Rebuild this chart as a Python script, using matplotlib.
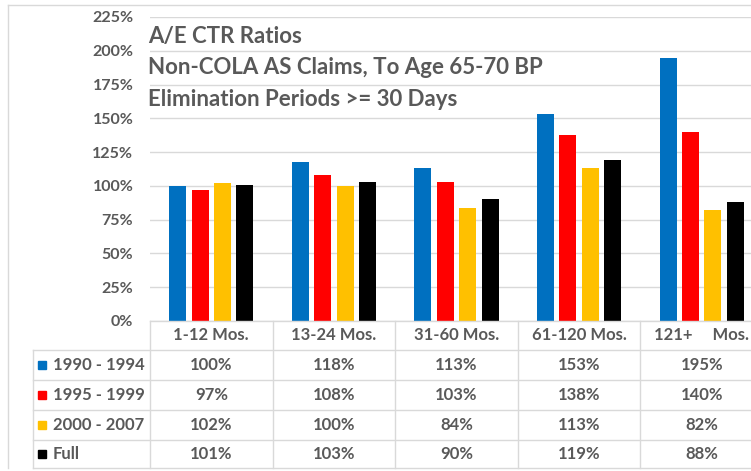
import matplotlib
matplotlib.use("Agg")
from matplotlib import pyplot as plt
from matplotlib.lines import Line2D
from matplotlib.patches import Rectangle
import numpy as np

categories = ['1-12 Mos.', '13-24 Mos.', '31-60 Mos.', '61-120 Mos.', '121+     Mos.']
series_names = ['1990 - 1994', '1995 - 1999', '2000 - 2007', 'Full']
values = [
    [100, 118, 113, 153, 195],
    [97, 108, 103, 138, 140],
    [102, 100, 84, 113, 82],
    [101, 103, 90, 119, 88],
]
colors = ['#0070C0', '#FF0000', '#FFC000', '#000000']
title_lines = ['A/E CTR Ratios',
               'Non-COLA AS Claims, To Age 65-70 BP',
               'Elimination Periods >= 30 Days']
yticks = np.arange(0, 2.26, 0.25)

plt.rcParams['font.family'] = ['Lato', 'DejaVu Sans']
W, H = 751, 471
txt = '#595959'
grid_c = '#d9d9d9'

fig = plt.figure(figsize=(W / 100, H / 100), dpi=100)
fig.patch.set_facecolor('white')

# plot area (extends past the right edge, like the cropped original)
x0, x1, y0, y1 = 150, 763, 321, 17
ax = fig.add_axes([x0 / W, 1 - y0 / H, (x1 - x0) / W, (y0 - y1) / H])
ax.set_xlim(-0.5, len(categories) - 0.5)
ax.set_ylim(0, 2.25)
for s in ax.spines.values():
    s.set_visible(False)
ax.set_xticks([])
ax.set_yticks(yticks)
ax.set_yticklabels(['{:.0f}%'.format(v * 100) for v in yticks], color=txt,
                   fontsize=11.5, fontweight='bold')
ax.tick_params(axis='y', length=0, pad=12)
ax.grid(axis='y', color=grid_c, linewidth=1)
ax.set_axisbelow(True)

x = np.arange(len(categories))
step, width = 0.183, 0.139
for i, (vals, c) in enumerate(zip(values, colors)):
    ax.bar(x + (i - 1.5) * step, np.array(vals) / 100, width=width, color=c, zorder=3)

for k, line in enumerate(title_lines):
    fig.text(148 / W, 1 - (37 + 31 * k) / H, line, fontsize=16, color=txt,
             fontweight='bold', va='center', ha='left')

# data table under the plot
def fx(px):
    return px / W

def fy(py):
    return 1 - py / H

col_edges = [x0 + (x1 - x0) / len(categories) * i for i in range(len(categories) + 1)]
row_edges = [321, 350, 380, 410, 440, 468]
leg_left = 33

def hline(xa, xb, y):
    fig.add_artist(Line2D([fx(xa), fx(xb)], [fy(y), fy(y)], color=grid_c, lw=1))

def vline(xv, ya, yb):
    fig.add_artist(Line2D([fx(xv), fx(xv)], [fy(ya), fy(yb)], color=grid_c, lw=1))

hline(x0, x1, row_edges[0])
for y in row_edges[1:]:
    hline(leg_left, x1, y)
for xe in col_edges:
    vline(xe, row_edges[0], row_edges[-1])
vline(leg_left, row_edges[1], row_edges[-1])

for j, cat in enumerate(categories):
    cx = (col_edges[j] + col_edges[j + 1]) / 2
    fig.text(fx(cx), fy((row_edges[0] + row_edges[1]) / 2), cat, ha='center',
             va='center', fontsize=12, color=txt, fontweight='bold')

for i, name in enumerate(series_names):
    cy = (row_edges[i + 1] + row_edges[i + 2]) / 2
    fig.add_artist(Rectangle((fx(38), fy(cy + 4)), 8 / W, 8 / H, color=colors[i]))
    fig.text(fx(53), fy(cy), name, ha='left', va='center', fontsize=12,
             color=txt, fontweight='bold')
    for j in range(len(categories)):
        cx = (col_edges[j] + col_edges[j + 1]) / 2
        fig.text(fx(cx), fy(cy), '{}%'.format(values[i][j]), ha='center',
                 va='center', fontsize=12, color=txt, fontweight='bold')

# outer chart frame
fig.add_artist(Line2D([fx(8), fx(760)], [fy(5), fy(5)], color=grid_c, lw=1))
fig.add_artist(Line2D([fx(8), fx(8)], [fy(5), fy(468)], color=grid_c, lw=1))

fig.savefig('out.png', dpi=100)
